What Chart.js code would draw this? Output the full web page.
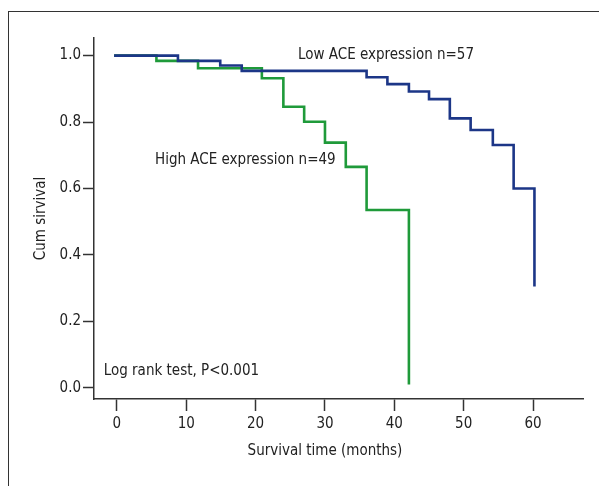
<!DOCTYPE html>
<html>
<head>
<meta charset="utf-8">
<script src="https://cdn.jsdelivr.net/npm/chart.js@4/dist/chart.umd.min.js"></script>
<style>
  html, body { margin: 0; padding: 0; background: #fff; }
  #wrap { position: relative; width: 599px; height: 486px; overflow: hidden; }
  #frame { position: absolute; left: 8px; top: 11px; width: 620px; height: 500px;
           border-left: 1.5px solid #333; border-top: 1.5px solid #333; }
  canvas { position: absolute; left: 0; top: 0; }
</style>
</head>
<body>
<div id="wrap">
  <div id="frame"></div>
  <canvas id="chart" width="599" height="486"></canvas>
</div>
<script>
// survival curves (months, cumulative survival)
const lowTimes = [-0.4, 8.8, 14.9, 18, 36, 39, 42.1, 45, 48, 51, 54.2, 57.2, 60.2];
const lowSurv = [1.0, 0.984, 0.97, 0.954, 0.935, 0.914, 0.892, 0.869, 0.811, 0.776, 0.731, 0.6, 0.305];
const highTimes = [-0.4, 5.7, 11.7, 20.9, 24, 27, 30, 33, 36, 42.1];
const highSurv = [1.0, 0.984, 0.962, 0.932, 0.846, 0.801, 0.738, 0.665, 0.535, 0.01];

const xTicks = [0, 10, 20, 30, 40, 50, 60];
const yTicks = [0.0, 0.2, 0.4, 0.6, 0.8, 1.0];

const lowLabel = "Low ACE expression n=57";
const highLabel = "High ACE expression n=49";
const testLabel = "Log rank test, P<0.001";
const xTitle = "Survival time (months)";
const yTitle = "Cum sirvival";

const FONT = "'Liberation Sans Narrow', 'DejaVu Sans Condensed', 'Roboto', sans-serif";
const SIZE = 15;

Chart.defaults.font.family = FONT;
Chart.defaults.font.size = SIZE;
Chart.defaults.color = "#222";

const toPoints = (xs, ys) => xs.map((x, i) => ({ x: x, y: ys[i] }));

// text labels placed in data units, plus the x axis title
const textPlugin = {
  id: "textLabels",
  afterDraw(chart) {
    const { ctx, scales } = chart;
    const x = scales.x;
    const y = scales.y;
    ctx.save();
    ctx.font = SIZE + "px " + FONT;
    ctx.fillStyle = "#222";
    ctx.textBaseline = "middle";
    ctx.textAlign = "left";
    ctx.fillText(lowLabel, x.getPixelForValue(26.1), y.getPixelForValue(1.002));
    ctx.fillText(highLabel, x.getPixelForValue(5.5), y.getPixelForValue(0.686));
    ctx.fillText(testLabel, x.getPixelForValue(-1.9), y.getPixelForValue(0.05));
    ctx.textAlign = "center";
    ctx.fillText(xTitle, x.getPixelForValue(30), 451);
    ctx.restore();
  },
};

new Chart(document.getElementById("chart").getContext("2d"), {
  type: "line",
  data: {
    datasets: [
      {
        label: lowLabel,
        data: toPoints(lowTimes, lowSurv),
        borderColor: "#1c3687",
        borderWidth: 2.6,
        stepped: "before",
        pointRadius: 0,
        fill: false,
      },
      {
        label: highLabel,
        data: toPoints(highTimes, highSurv),
        borderColor: "#1f9a3a",
        borderWidth: 2.6,
        stepped: "before",
        pointRadius: 0,
        fill: false,
      },
    ],
  },
  options: {
    responsive: false,
    animation: false,
    layout: { padding: { top: 38, right: 16, left: 0, bottom: 0 } },
    plugins: {
      legend: { display: false },
      tooltip: { enabled: false },
    },
    scales: {
      x: {
        type: "linear",
        min: -3.3,
        max: 67.2,
        afterBuildTicks: (scale) => {
          scale.ticks = xTicks.map((v) => ({ value: v }));
        },
        afterFit: (scale) => {
          scale.height = 87;
        },
        grid: { drawOnChartArea: false, tickLength: 12, tickWidth: 1.5, tickColor: "#333" },
        border: { color: "#333", width: 1.5 },
        ticks: { padding: 4, maxRotation: 0, autoSkip: false },
      },
      y: {
        type: "linear",
        min: -0.034,
        max: 1.053,
        afterBuildTicks: (scale) => {
          scale.ticks = yTicks.map((v) => ({ value: v }));
        },
        afterFit: (scale) => {
          scale.width = 94;
        },
        grid: { drawOnChartArea: false, tickLength: 11, tickWidth: 1.5, tickColor: "#333" },
        border: { color: "#333", width: 1.5 },
        ticks: {
          padding: 2,
          autoSkip: false,
          callback: (v) => Number(v).toFixed(1),
        },
        title: {
          display: true,
          text: yTitle,
          padding: { top: 32, bottom: 0 },
        },
      },
    },
  },
  plugins: [textPlugin],
});
</script>
</body>
</html>
